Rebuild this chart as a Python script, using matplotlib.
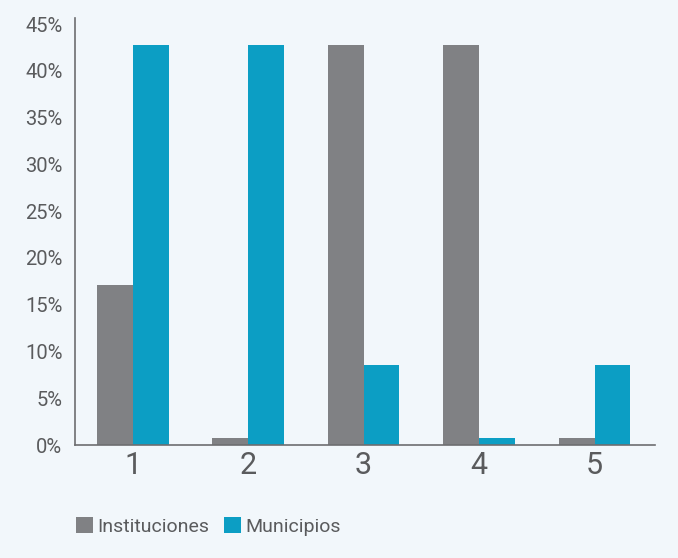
import numpy as np
import matplotlib.pyplot as plt

plt.rcParams['font.family'] = ['Roboto', 'DejaVu Sans']

grupos = ["1", "2", "3", "4", "5"]
instituciones = [17.1, 0.7, 42.8, 42.8, 0.7]
municipios = [42.8, 42.8, 8.6, 0.7, 8.6]

gris = "#808184"
azul = "#0c9ec4"
fondo = "#f2f7fb"
texto = "#5a5b5d"

fig = plt.figure(figsize=(6.78, 5.58), dpi=100, facecolor=fondo)
ax = fig.add_axes([0.1106, 0.2025, 0.855, 0.766], facecolor=fondo)

x = np.arange(1, len(grupos) + 1)
w = 0.31
ax.bar(x - w / 2, instituciones, w, color=gris, label="Instituciones")
ax.bar(x + w / 2, municipios, w, color=azul, label="Municipios")

ax.set_xlim(0.5, 5.52)
ax.set_ylim(0, 45.7)
ax.set_xticks(x)
ax.set_xticklabels(grupos, fontsize=22, color=texto)
ax.set_yticks(np.arange(0, 46, 5))
ax.set_yticklabels([f"{v}%" for v in range(0, 46, 5)], fontsize=14.5, color=texto)
ax.tick_params(axis="both", length=0)
ax.tick_params(axis="x", pad=4)
ax.tick_params(axis="y", pad=9)

for s in ["top", "right"]:
    ax.spines[s].set_visible(False)
for s in ["left", "bottom"]:
    ax.spines[s].set_color("#6d6e70")
    ax.spines[s].set_linewidth(1.2)

leg = fig.legend(loc="lower left", bbox_to_anchor=(0.086, 0.008), ncol=2, frameon=False,
                 fontsize=14, handlelength=0.9, handleheight=0.9, handletextpad=0.2,
                 columnspacing=0.75)
for t in leg.get_texts():
    t.set_color(texto)

fig.savefig("out.png", dpi=100, facecolor=fondo)
